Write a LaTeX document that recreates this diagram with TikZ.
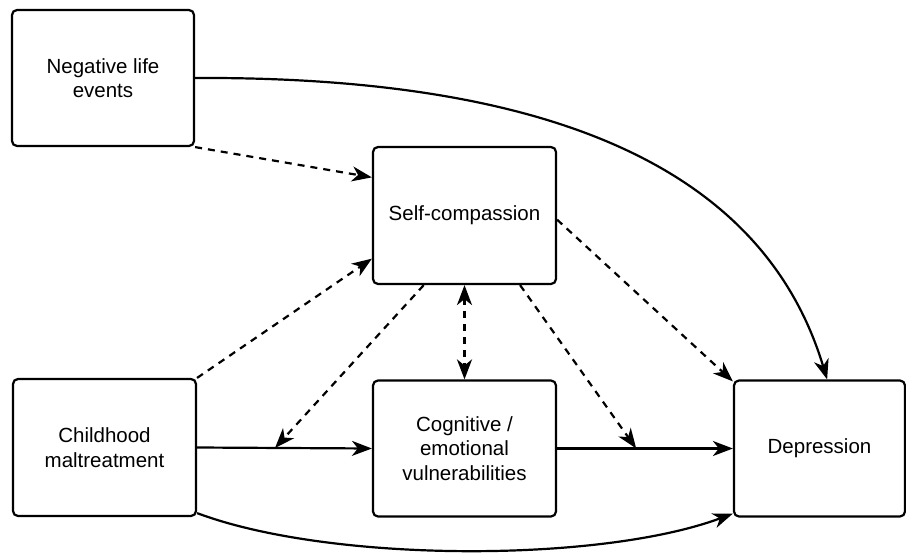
\documentclass[tikz,border=0pt]{standalone}
\usepackage{fontspec}
\setmainfont{Liberation Sans}
\usetikzlibrary{arrows.meta,calc}
\begin{document}
\begin{tikzpicture}[x=1pt,y=-1pt,
  box/.style={draw,line width=2.2pt,rounded corners=5pt,align=center,inner sep=2pt,
    fill=white,font=\fontsize{20.5}{24.5}\selectfont},
  tip/.style={Stealth[length=20pt,width=15pt,inset=6pt]},
  link/.style={line width=2.2pt,-{Stealth[length=20pt,width=15pt,inset=6pt]}},
  dlink/.style={link,dash pattern=on 7pt off 6pt},
  blink/.style={dlink,{Stealth[length=20pt,width=15pt,inset=6pt]}-{Stealth[length=20pt,width=15pt,inset=6pt]}}]
\useasboundingbox (0,0) rectangle (906,554);

% variables
\node[box,minimum width=182pt,minimum height=136pt] (nle) at (103,78) {Negative life\\events};
\node[box,minimum width=183pt,minimum height=137pt] (sc) at (464.5,215.5) {Self-compassion};
\node[box,minimum width=183pt,minimum height=137pt] (cm) at (104.5,447.5) {Childhood\\maltreatment};
\node[box,minimum width=183pt,minimum height=136pt] (cog) at (464.5,448.5) {Cognitive /\\emotional\\vulnerabilities};
\node[box,minimum width=171pt,minimum height=136pt] (dep) at (819.5,448.5) {Depression};

% points on the direct paths where moderation acts
\coordinate (m1) at ($(cm.east)!0.446!(cog.west)$);
\coordinate (m2) at ($(cog.east)!0.45!(dep.west)$);

% direct paths
\draw[link] (nle.east) .. controls (590,76) and (770,190) .. ($(dep.north west)!0.544!(dep.north east)$);
\draw[link] (cm.east) -- (cog.west);
\draw[link] (cog.east) -- (dep.west);
\draw[link] ($(cm.south east)+(0,-4)$) .. controls (330,563) and (600,563) .. ($(dep.south west)+(0,-4)$);

% self-compassion paths
\draw[dlink] (nle.south east) -- ($(sc.north west)!0.226!(sc.south west)$);
\draw[dlink] (cm.north east) -- ($(sc.north west)!0.81!(sc.south west)$);
\draw[dlink] ($(sc.south west)!0.28!(sc.south east)$) -- (m1);
\draw[blink] (sc.south) -- (cog.north);
\draw[dlink] ($(sc.south west)!0.80!(sc.south east)$) -- (m2);
\draw[dlink] ($(sc.north east)!0.53!(sc.south east)$) -- ($(dep.north west)+(0,2)$);
\end{tikzpicture}
\end{document}
